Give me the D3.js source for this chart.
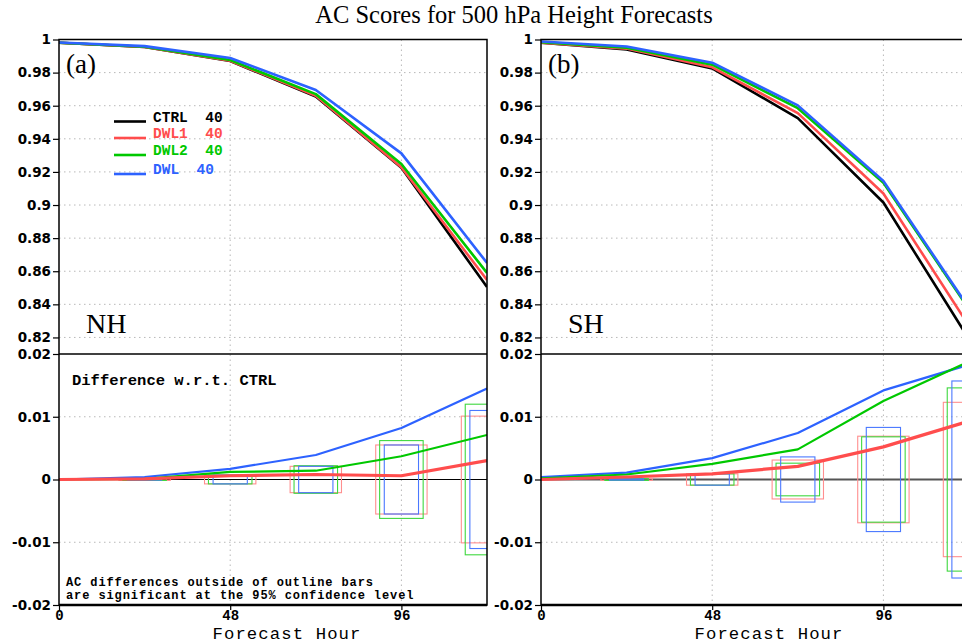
<!DOCTYPE html>
<html>
<head>
<meta charset="utf-8">
<script src="https://cdn.jsdelivr.net/npm/d3@7/dist/d3.min.js"></script>
<style>
html,body{margin:0;padding:0;background:#fff;}
svg{display:block;}
</style>
</head>
<body>
<svg id="chart" width="962" height="644"></svg>
<script>
// ---------------- DATA ----------------
const hours = [0, 24, 48, 72, 96, 120];
const seriesNames = ["CTRL", "DWL1", "DWL2", "DWL"];
const legendLabels = ["CTRL  40", "DWL1  40", "DWL2  40", "DWL  40"];
const topTicks = [1, 0.98, 0.96, 0.94, 0.92, 0.9, 0.88, 0.86, 0.84, 0.82];
const topTickLabels = ["1", "0.98", "0.96", "0.94", "0.92", "0.9", "0.88", "0.86", "0.84", "0.82"];
const botTicks = [0.02, 0.01, 0, -0.01, -0.02];
const botTickLabels = ["0.02", "0.01", "0", "-0.01", "-0.02"];
const xTicks = [0, 48, 96];
const xTickLabels = ["0", "48", "96"];

// NH anomaly correlation
const nhCTRL = [0.998, 0.9955, 0.987, 0.9655, 0.9225, 0.8505];
const nhDWL1 = [0.998, 0.9955, 0.9872, 0.966, 0.9228, 0.8547];
const nhDWL2 = [0.998, 0.9956, 0.9876, 0.967, 0.9248, 0.859];
const nhDWL  = [0.9982, 0.996, 0.9888, 0.9695, 0.9312, 0.865];
// NH differences w.r.t. CTRL
const nhDiffDWL1 = [0, 0.0001, 0.0006, 0.0008, 0.0006, 0.003];
const nhDiffDWL2 = [0, 0.0001, 0.0012, 0.0014, 0.0037, 0.0071];
const nhDiffDWL  = [0, 0.0004, 0.0017, 0.0039, 0.0082, 0.0145];
// NH 95% confidence half-ranges
const nhCiDWL1 = [0, 0.00015, 0.0007, 0.0021, 0.0055, 0.0101];
const nhCiDWL2 = [0, 0.00015, 0.0007, 0.0022, 0.0062, 0.012];
const nhCiDWL  = [0, 0.0001, 0.0007, 0.0021, 0.0055, 0.011];

// SH anomaly correlation
const shCTRL = [0.998, 0.994, 0.9825, 0.9525, 0.9015, 0.819];
const shDWL1 = [0.998, 0.9945, 0.9832, 0.9555, 0.907, 0.827];
const shDWL2 = [0.9984, 0.995, 0.9848, 0.9585, 0.9135, 0.837];
const shDWL  = [0.9988, 0.9958, 0.986, 0.9602, 0.9145, 0.8378];
// SH differences w.r.t. CTRL
const shDiffDWL1 = [0, 0.0004, 0.0009, 0.0021, 0.0052, 0.0093];
const shDiffDWL2 = [0.0002, 0.0008, 0.0025, 0.0048, 0.0125, 0.0188];
const shDiffDWL  = [0.0004, 0.0011, 0.0034, 0.0074, 0.0142, 0.0183];
// SH 95% confidence half-ranges
const shCiDWL1 = [0, 0.00015, 0.0009, 0.0031, 0.0069, 0.0123];
const shCiDWL2 = [0, 0.00015, 0.0009, 0.0026, 0.0068, 0.0146];
const shCiDWL  = [0, 0.0001, 0.0009, 0.0036, 0.0083, 0.0157];

// ---------------- STYLE ----------------
const lineColors = {CTRL: "#000000", DWL1: "#ff4d4d", DWL2: "#00c800", DWL: "#2d62ff"};
const barColors = {DWL1: "#ff8f8f", DWL2: "#3fd83f", DWL: "#4a78ff"};
const barHalfHours = {DWL1: 7.2, DWL2: 6.1, DWL: 4.8};

const svg = d3.select("#chart");
const W = 428;
const yTopRange = [39.5, 354];
const yBotRange = [354, 605];
const mono = "Liberation Mono, Courier New, monospace";
const serif = "Liberation Serif, Times New Roman, serif";

svg.append("text")
  .attr("x", 514).attr("y", 23)
  .attr("text-anchor", "middle")
  .attr("font-family", serif)
  .attr("font-size", 24.5)
  .text("AC Scores for 500 hPa Height Forecasts");

function drawPanel(cfg) {
  const x = d3.scaleLinear().domain([0, 120]).range([cfg.x0, cfg.x0 + W]);
  const yT = d3.scaleLinear().domain([0.81, 1]).range([yTopRange[1], yTopRange[0]]);
  const yB = d3.scaleLinear().domain([-0.02, 0.02]).range([yBotRange[1], yBotRange[0]]);
  const g = svg.append("g");
  const clipId = "clip" + cfg.id;
  svg.append("clipPath").attr("id", clipId)
    .append("rect").attr("x", cfg.x0).attr("y", yTopRange[0])
    .attr("width", W).attr("height", yBotRange[1] - yTopRange[0]);

  // grid
  const grid = g.append("g").attr("stroke", "#b8b8b8").attr("stroke-width", 1)
    .attr("stroke-dasharray", "1.5,3.5");
  xTicks.slice(1).forEach(h => {
    grid.append("line").attr("x1", x(h)).attr("x2", x(h))
      .attr("y1", yTopRange[0]).attr("y2", yBotRange[1]);
  });
  topTicks.slice(1).forEach(v => {
    grid.append("line").attr("x1", x(0)).attr("x2", x(120))
      .attr("y1", yT(v)).attr("y2", yT(v));
  });
  [0.01, -0.01].forEach(v => {
    grid.append("line").attr("x1", x(0)).attr("x2", x(120))
      .attr("y1", yB(v)).attr("y2", yB(v));
  });

  // zero line
  g.append("line").attr("x1", x(0)).attr("x2", x(120))
    .attr("y1", yB(0)).attr("y2", yB(0))
    .attr("stroke", cfg.zeroColor).attr("stroke-width", cfg.zeroWidth);

  const plot = g.append("g").attr("clip-path", `url(#${clipId})`);

  // confidence bars
  ["DWL1", "DWL2", "DWL"].forEach(name => {
    const ci = cfg.ci[name];
    hours.forEach((h, i) => {
      if (ci[i] <= 0) return;
      plot.append("rect")
        .attr("x", x(h - barHalfHours[name]))
        .attr("width", x(h + barHalfHours[name]) - x(h - barHalfHours[name]))
        .attr("y", yB(ci[i]))
        .attr("height", Math.max(yB(-ci[i]) - yB(ci[i]), 1))
        .attr("fill", "none")
        .attr("stroke", barColors[name])
        .attr("stroke-width", 1.1);
    });
  });

  // top lines
  const lt = d3.line().x((d, i) => x(hours[i])).y(d => yT(d));
  seriesNames.forEach(name => {
    plot.append("path").datum(cfg.ac[name]).attr("d", lt)
      .attr("fill", "none").attr("stroke", lineColors[name])
      .attr("stroke-width", 2.6).attr("stroke-linejoin", "round");
  });
  // diff lines
  const lb = d3.line().x((d, i) => x(hours[i])).y(d => yB(d));
  ["DWL", "DWL2", "DWL1"].forEach(name => {
    plot.append("path").datum(cfg.diff[name]).attr("d", lb)
      .attr("fill", "none").attr("stroke", lineColors[name])
      .attr("stroke-width", name === "DWL1" ? 3.2 : 2.2).attr("stroke-linejoin", "round");
  });

  // frame
  const frame = g.append("g").attr("stroke", "#000").attr("fill", "none");
  frame.append("rect").attr("x", x(0)).attr("y", yTopRange[0])
    .attr("width", W).attr("height", yBotRange[1] - yTopRange[0])
    .attr("stroke-width", 1.5);
  frame.append("line").attr("x1", x(0)).attr("x2", x(120))
    .attr("y1", yTopRange[1]).attr("y2", yTopRange[1]).attr("stroke-width", 1.5);
  frame.append("line").attr("x1", x(0)).attr("x2", x(120))
    .attr("y1", yBotRange[1]).attr("y2", yBotRange[1]).attr("stroke-width", 2.5);

  // axes via d3
  const axT = d3.axisLeft(yT).tickValues(topTicks)
    .tickFormat((d, i) => topTickLabels[i]).tickSize(6).tickPadding(2);
  const axB = d3.axisLeft(yB).tickValues(botTicks)
    .tickFormat((d, i) => botTickLabels[i]).tickSize(6).tickPadding(2);
  const axX = d3.axisBottom(x).tickValues(xTicks)
    .tickFormat((d, i) => xTickLabels[i]).tickSize(5);
  [axT, axB].forEach(ax => {
    const a = g.append("g").attr("transform", `translate(${x(0)},0)`).call(ax);
    a.select(".domain").remove();
    a.selectAll(".tick line").attr("stroke", "#000").attr("stroke-width", 1.2);
    a.selectAll(".tick text").attr("font-family", "DejaVu Sans, Verdana, sans-serif")
      .attr("font-size", 13.5).attr("font-weight", "bold").attr("fill", "#000");
  });
  const ax = g.append("g").attr("transform", `translate(0,${yBotRange[1]})`).call(axX);
  ax.select(".domain").remove();
  ax.selectAll(".tick line").attr("stroke", "#000").attr("stroke-width", 1.2);
  ax.selectAll(".tick text").attr("font-family", mono)
    .attr("font-size", 14).attr("font-weight", "bold").attr("fill", "#000")
    .attr("y", 15).attr("dy", 0);

  g.append("text").attr("x", (x(0) + x(120)) / 2 + 14).attr("y", 638.6)
    .attr("text-anchor", "middle")
    .attr("font-family", mono)
    .attr("font-size", 17.3).attr("letter-spacing", 1.1).text("Forecast Hour");

  g.append("text").attr("x", x(0) + 7).attr("y", 73)
    .attr("font-family", serif)
    .attr("font-size", 27).text(cfg.letter);
  g.append("text").attr("x", x(0) + 27).attr("y", 333)
    .attr("font-family", serif)
    .attr("font-size", 28).text(cfg.region);

  return {x, yT, yB, g};
}

drawPanel({
  id: "a", x0: 59, letter: "(a)", region: "NH", zeroColor: "#000", zeroWidth: 1,
  ac: {CTRL: nhCTRL, DWL1: nhDWL1, DWL2: nhDWL2, DWL: nhDWL},
  diff: {DWL1: nhDiffDWL1, DWL2: nhDiffDWL2, DWL: nhDiffDWL},
  ci: {DWL1: nhCiDWL1, DWL2: nhCiDWL2, DWL: nhCiDWL}
});
drawPanel({
  id: "b", x0: 541, letter: "(b)", region: "SH", zeroColor: "#555", zeroWidth: 1.8,
  ac: {CTRL: shCTRL, DWL1: shDWL1, DWL2: shDWL2, DWL: shDWL},
  diff: {DWL1: shDiffDWL1, DWL2: shDiffDWL2, DWL: shDiffDWL},
  ci: {DWL1: shCiDWL1, DWL2: shCiDWL2, DWL: shCiDWL}
});

// legend (left panel)
const legY = [121.5, 138, 155, 174];
const lg = svg.append("g");
seriesNames.forEach((name, i) => {
  lg.append("line").attr("x1", 114).attr("x2", 146)
    .attr("y1", legY[i]).attr("y2", legY[i])
    .attr("stroke", lineColors[name]).attr("stroke-width", 2.6);
  lg.append("text").attr("x", 153).attr("y", legY[i])
    .attr("font-family", mono)
    .attr("font-size", 14.5).attr("font-weight", "bold")
    .attr("fill", lineColors[name])
    .style("white-space", "pre")
    .text(legendLabels[i]);
});

// annotations
svg.append("text").attr("x", 72).attr("y", 385)
  .attr("font-family", mono).attr("font-size", 15.5).attr("font-weight", "bold")
  .text("Difference w.r.t. CTRL");
svg.append("text").attr("x", 66).attr("y", 585.5)
  .attr("font-family", mono).attr("font-size", 12).attr("font-weight", "bold")
  .attr("letter-spacing", 0.9)
  .text("AC differences outside of outline bars");
svg.append("text").attr("x", 66).attr("y", 598.5)
  .attr("font-family", mono).attr("font-size", 12).attr("font-weight", "bold")
  .attr("letter-spacing", 0.9)
  .text("are significant at the 95% confidence level");
</script>
</body>
</html>
